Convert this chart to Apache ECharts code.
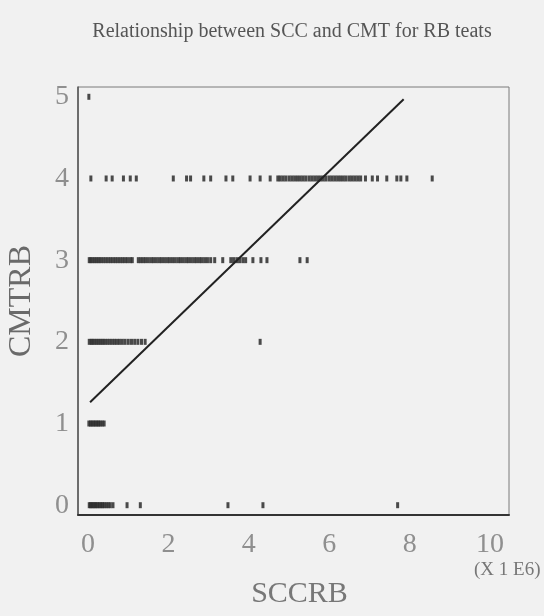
<!DOCTYPE html>
<html>
<head>
<meta charset="utf-8">
<script src="https://cdn.jsdelivr.net/npm/echarts@6/dist/echarts.min.js"></script>
<style>
html,body{margin:0;padding:0;background:#f1f1f1;}
#chart{width:544px;height:616px;}
</style>
</head>
<body>
<div id="chart"></div>
<script>
// SCC values (x 1E6) observed at each CMT score
const sccAtCmt0 = [0.03,0.06,0.1,0.13,0.17,0.2,0.24,0.28,0.32,0.36,0.4,0.45,0.5,0.55,0.62,0.97,1.3,3.48,4.35,7.7];
const sccAtCmt1 = [0.02,0.06,0.1,0.14,0.18,0.22,0.26,0.3,0.35,0.4];
const sccAtCmt2 = [0.03,0.08,0.12,0.17,0.22,0.27,0.32,0.37,0.42,0.48,0.54,0.6,0.66,0.72,0.78,0.85,0.92,1.0,1.08,1.16,1.24,1.33,1.42,4.28];
const sccAtCmt3 = [0.03,0.07,0.12,0.17,0.22,0.27,0.32,0.38,0.44,0.5,0.56,0.62,0.68,0.74,0.8,0.86,0.92,0.98,1.05,1.1,
  1.25,1.31,1.37,1.43,1.5,1.57,1.63,1.7,1.77,1.83,1.9,1.97,2.03,2.1,2.17,2.24,2.3,2.37,2.44,2.5,2.57,2.64,2.7,2.77,2.83,2.9,2.97,3.05,3.15,
  3.35,3.55,3.62,3.7,3.77,3.85,3.92,4.1,4.3,4.45,5.27,5.45];
const sccAtCmt4 = [0.07,0.45,0.6,0.88,1.05,1.2,2.12,2.45,2.55,2.88,3.05,3.43,3.6,4.03,4.28,4.53,
  4.72,4.78,4.85,4.92,5.0,5.07,5.14,5.21,5.28,5.35,5.42,5.5,5.57,5.64,5.71,5.78,5.85,5.92,6.0,6.07,6.14,6.21,6.28,6.35,6.42,6.5,6.57,6.64,6.71,6.78,
  6.9,7.07,7.2,7.43,7.68,7.78,7.93,8.56];
const sccAtCmt5 = [0.02];
const cmtLevels = [0,1,2,3,4,5];
// fitted regression line endpoints [SCC, CMT]
const fitLine = [[0.05,1.26],[7.85,4.97]];
const xTicks = [0,2,4,6,8,10];
const yTicks = [0,1,2,3,4,5];

const groups = [sccAtCmt0,sccAtCmt1,sccAtCmt2,sccAtCmt3,sccAtCmt4,sccAtCmt5];
const points = [];
groups.forEach((arr,i)=>arr.forEach(v=>points.push([v,cmtLevels[i]])));

const serif = 'Liberation Serif';
const chart = echarts.init(document.getElementById('chart'));
chart.setOption({
  backgroundColor:'#f1f1f1',
  animation:false,
  title:{
    text:'Relationship between SCC and CMT for RB teats',
    left:287, top:17, textAlign:'center',
    textStyle:{fontFamily:serif,fontSize:20,fontWeight:'normal',color:'#555'}
  },
  grid:{left:78,right:35,top:87,bottom:101,outerBoundsMode:'none',containLabel:false,
        show:true,borderColor:'#7a7a7a',borderWidth:1,backgroundColor:'transparent'},
  xAxis:{
    type:'value',min:-0.25,max:10.47,
    name:'SCCRB',nameLocation:'middle',nameGap:64,
    nameTextStyle:{fontFamily:serif,fontSize:30,color:'#777',padding:[0,0,0,12]},
    axisLine:{show:true,onZero:false,lineStyle:{color:'#333',width:2}},
    axisTick:{show:false},
    splitLine:{show:false},
    axisLabel:{customValues:xTicks,fontFamily:serif,fontSize:28,color:'#8f8f8f',margin:16}
  },
  yAxis:{
    type:'value',min:-0.12,max:5.12,
    name:'CMTRB',nameLocation:'middle',nameGap:40,nameRotate:90,
    nameTextStyle:{fontFamily:serif,fontSize:32,color:'#6a6a6a'},
    axisLine:{show:true,onZero:false,lineStyle:{color:'#555',width:1.5}},
    axisTick:{show:false},
    splitLine:{show:false},
    axisLabel:{customValues:yTicks,fontFamily:serif,fontSize:28,color:'#8f8f8f',margin:9}
  },
  graphic:[{
    type:'text',left:474,top:561,
    style:{text:'(X 1 E6)',fontFamily:serif,fontSize:19,fill:'#777'}
  }],
  series:[
    {type:'scatter',data:points,symbol:'rect',symbolSize:[3,6],
     itemStyle:{color:'#2b2b2b',opacity:0.85},silent:true},
    {type:'line',data:fitLine,symbol:'none',
     lineStyle:{color:'#222',width:2},silent:true}
  ]
});
</script>
</body>
</html>
